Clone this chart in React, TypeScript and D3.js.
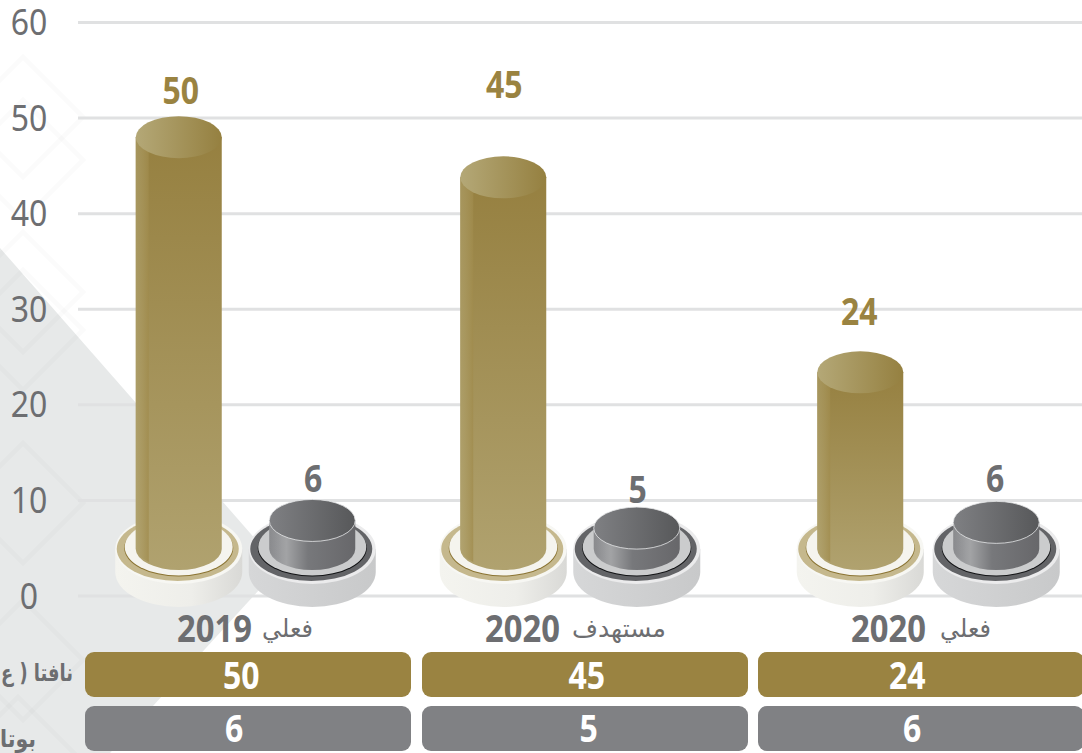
import React from 'react';
import * as d3 from 'd3';

const categories = ['2019', '2020', '2020'];
const categoryWords = ['فعلي', 'مستهدف', 'فعلي'];
const naftaValues = [50, 45, 24];
const butaneValues = [6, 5, 6];
// how tall the columns are actually drawn, read against the axis
const naftaDrawn = [50.2, 46.0, 25.6];
const butaneDrawn = [10.1, 9.3, 9.9];
const yTicks = [0, 10, 20, 30, 40, 50, 60];
const rowLabels = ['نافتا ( ع', 'بوتا'];

const width = 1082;
const height = 753;
const GOLD = '#9a8341';
const GREY = '#808184';
const TEXT = '#6d6e71';
const NUM_FONT = '"Noto Sans", "Open Sans", sans-serif';
const AR_FONT = '"DejaVu Sans", sans-serif';

const y = d3.scaleLinear().domain([0, 60]).range([596, 22.5]);
const x = d3.scaleBand<number>().domain([0, 1, 2]).range([80, 1089.5]);
const cx = (i: number) => (x(i) as number) + x.bandwidth() / 2;

// hand placement, the source is not evenly spaced
const goldOffset = [-69.5, -81.5, -61];
const greyOffset = [64, 52, 75];
const goldLift = [12, 58, 26];
const greyLift = [7, 4, 9];
const goldLabelShift = [2, 1, -1];
const greyLabelShift = [1, 1, -1];
const goldCellOffset = [-7, 2, -14];
const greyCellOffset = [-14, 4, -9];
const yearX = [214.5, 522.5, 888.5];
const wordX = [313, 666, 991];
const cellX = [85, 422, 758];

const digits = (s: string) => s.length * 18.3;

const Num = ({ x, y, text, fill, bold = true }: { x: number; y: number; text: string; fill: string; bold?: boolean }) => (
  <text x={x} y={y} textAnchor="middle" fontFamily={NUM_FONT} fontSize={37} fontWeight={bold ? 700 : 400}
    fill={fill} textLength={digits(text)} lengthAdjust="spacingAndGlyphs">{text}</text>
);

const Disc = ({ c, kind }: { c: number; kind: 'gold' | 'grey' }) => {
  const gold = kind === 'gold';
  const rx = 63.5;
  return (
    <g>
      <path d={`M${c - rx},549 L${c - rx},572 A${rx},35 0 0 0 ${c + rx},572 L${c + rx},549 Z`} fill={`url(#${kind}Side)`} />
      <ellipse cx={c} cy={549} rx={rx} ry={35} fill={gold ? '#f7f7f3' : '#ebebec'} />
      <ellipse cx={c - 1} cy={549} rx={rx - 2.5} ry={32} fill={gold ? '#c5b88d' : '#636467'} />
      <ellipse cx={c} cy={548} rx={rx - 9} ry={28.5} fill={gold ? '#8a7331' : '#111214'} />
      <ellipse cx={c} cy={547} rx={rx - 9.5} ry={28.5} fill={gold ? '#f5f4ee' : '#cbcccd'} />
    </g>
  );
};

const Column = ({ c, top, kind }: { c: number; top: number; kind: 'gold' | 'grey' }) => {
  const r = 43;
  const ry = 21;
  const cy = top + ry;
  const bottom = 549;
  const body = `M${c - r},${cy} L${c - r},${bottom} A${r},${ry} 0 0 0 ${c + r},${bottom} L${c + r},${cy} Z`;
  const strip = `M${c - r},${cy} L${c - r},${bottom} A${r},${ry} 0 0 0 ${c - r + 13},${bottom + 13} L${c - r + 13},${cy} Z`;
  return (
    <g>
      <path d={body} fill={`url(#${kind}Body)`} />
      <path d={strip} fill={`url(#${kind}Strip)`} />
      <ellipse cx={c} cy={cy} rx={r} ry={ry} fill={`url(#${kind}Top)`} stroke={kind === 'grey' ? '#e6e7e8' : 'none'} strokeWidth={kind === 'grey' ? 0.8 : 0} />
    </g>
  );
};

const diamonds = [
  { c: 23, top: 57, r: 60 },
  { c: 23, top: 100, r: 60 },
  { c: 23, top: 232, r: 60 },
  { c: 23, top: 270, r: 60 },
  { c: 23, top: 443, r: 60 },
  { c: 23, top: 600, r: 60 },
  { c: 18, top: 697, r: 60 },
];

export default function App() {
  return (
    <svg width={width} height={height} viewBox={`0 0 ${width} ${height}`}
      style={{ position: 'fixed', left: 0, top: 0, background: '#fff' }}>
      <defs>
        <linearGradient id="goldBody" x1="0" y1="0" x2="0" y2="1">
          <stop offset="0" stopColor="#968040" />
          <stop offset="1" stopColor="#b0a26f" />
        </linearGradient>
        <linearGradient id="goldStrip" x1="0" y1="0" x2="1" y2="0">
          <stop offset="0" stopColor="#b3a673" stopOpacity={0.55} />
          <stop offset="1" stopColor="#a08b4c" stopOpacity={0.75} />
        </linearGradient>
        <linearGradient id="goldTop" x1="0" y1="0" x2="1" y2="0">
          <stop offset="0" stopColor="#b4a877" />
          <stop offset="1" stopColor="#958040" />
        </linearGradient>
        <linearGradient id="goldSide" x1="0" y1="0" x2="1" y2="0">
          <stop offset="0" stopColor="#f4f4ef" />
          <stop offset="0.6" stopColor="#eeeeea" />
          <stop offset="1" stopColor="#d9d9d6" />
        </linearGradient>
        <linearGradient id="greyBody" x1="0" y1="0" x2="1" y2="0">
          <stop offset="0" stopColor="#8d8e91" />
          <stop offset="0.2" stopColor="#a2a3a5" />
          <stop offset="0.45" stopColor="#77787b" />
          <stop offset="1" stopColor="#67676a" />
        </linearGradient>
        <linearGradient id="greyStrip" x1="0" y1="0" x2="1" y2="0">
          <stop offset="0" stopColor="#808184" stopOpacity={0.25} />
          <stop offset="1" stopColor="#808184" stopOpacity={0} />
        </linearGradient>
        <linearGradient id="greyTop" x1="0" y1="0" x2="1" y2="0">
          <stop offset="0" stopColor="#7f8083" />
          <stop offset="1" stopColor="#57585a" />
        </linearGradient>
        <linearGradient id="greySide" x1="0" y1="0" x2="1" y2="0">
          <stop offset="0" stopColor="#d6d7d8" />
          <stop offset="1" stopColor="#c8c9ca" />
        </linearGradient>
      </defs>

      {/* background shapes */}
      <polygon points="0,248 280,567 110,753 0,753" fill="#e7e9e9" />
      {diamonds.map((d, i) => (
        <path key={i} d={`M${d.c - d.r},${d.top + d.r} L${d.c},${d.top} L${d.c + d.r},${d.top + d.r} L${d.c},${d.top + 2 * d.r} Z`}
          fill="none" stroke="#000" strokeOpacity={0.014} strokeWidth={5} />
      ))}

      {/* y axis */}
      {yTicks.map(t => (
        <g key={t}>
          <line x1={78} x2={width} y1={y(t)} y2={y(t)} stroke="#e0e1e2" strokeWidth={3} />
          <text x={29} y={y(t) + 12.5} textAnchor="middle" fontFamily={NUM_FONT} fontSize={37} fill={TEXT}
            textLength={digits(String(t))} lengthAdjust="spacingAndGlyphs">{t}</text>
        </g>
      ))}

      {/* columns */}
      {categories.map((_, i) => {
        const gc = cx(i) + goldOffset[i];
        const bc = cx(i) + greyOffset[i];
        return (
          <g key={i}>
            <Disc c={gc} kind="gold" />
            <Column c={gc} top={y(naftaDrawn[i])} kind="gold" />
            <Disc c={bc} kind="grey" />
            <Column c={bc} top={y(butaneDrawn[i])} kind="grey" />
            <Num x={gc + goldLabelShift[i]} y={y(naftaDrawn[i]) - goldLift[i]} text={String(naftaValues[i])} fill={GOLD} />
            <Num x={bc + greyLabelShift[i]} y={y(butaneDrawn[i]) - greyLift[i]} text={String(butaneValues[i])} fill={TEXT} />
          </g>
        );
      })}

      {/* category labels */}
      {categories.map((c, i) => (
        <g key={i}>
          <text x={yearX[i]} y={642} textAnchor="middle" fontFamily={NUM_FONT} fontSize={37} fontWeight={700} fill={TEXT}
            textLength={75} lengthAdjust="spacingAndGlyphs">{c}</text>
          <text x={wordX[i]} y={637} textAnchor="end" fontFamily={AR_FONT} fontSize={25} fill={TEXT}
            textLength={i === 1 ? 94 : 51} lengthAdjust="spacingAndGlyphs">{categoryWords[i]}</text>
        </g>
      ))}

      {/* table rows */}
      {categories.map((_, i) => (
        <g key={i}>
          <rect x={cellX[i]} y={652} width={326} height={45} rx={9} fill={GOLD} />
          <rect x={cellX[i]} y={706} width={326} height={45} rx={9} fill={GREY} />
          <Num x={cx(i) + goldCellOffset[i]} y={689} text={String(naftaValues[i])} fill="#fff" />
          <Num x={cx(i) + greyCellOffset[i]} y={742} text={String(butaneValues[i])} fill="#fff" />
        </g>
      ))}
      <text x={73} y={681} textAnchor="end" fontFamily={AR_FONT} fontSize={24} fontWeight={700} fill={TEXT}
        textLength={72} lengthAdjust="spacingAndGlyphs">{rowLabels[0]}</text>
      <text x={36} y={747} textAnchor="end" fontFamily={AR_FONT} fontSize={24} fontWeight={700} fill={TEXT}
        textLength={36} lengthAdjust="spacingAndGlyphs">{rowLabels[1]}</text>
    </svg>
  );
}
